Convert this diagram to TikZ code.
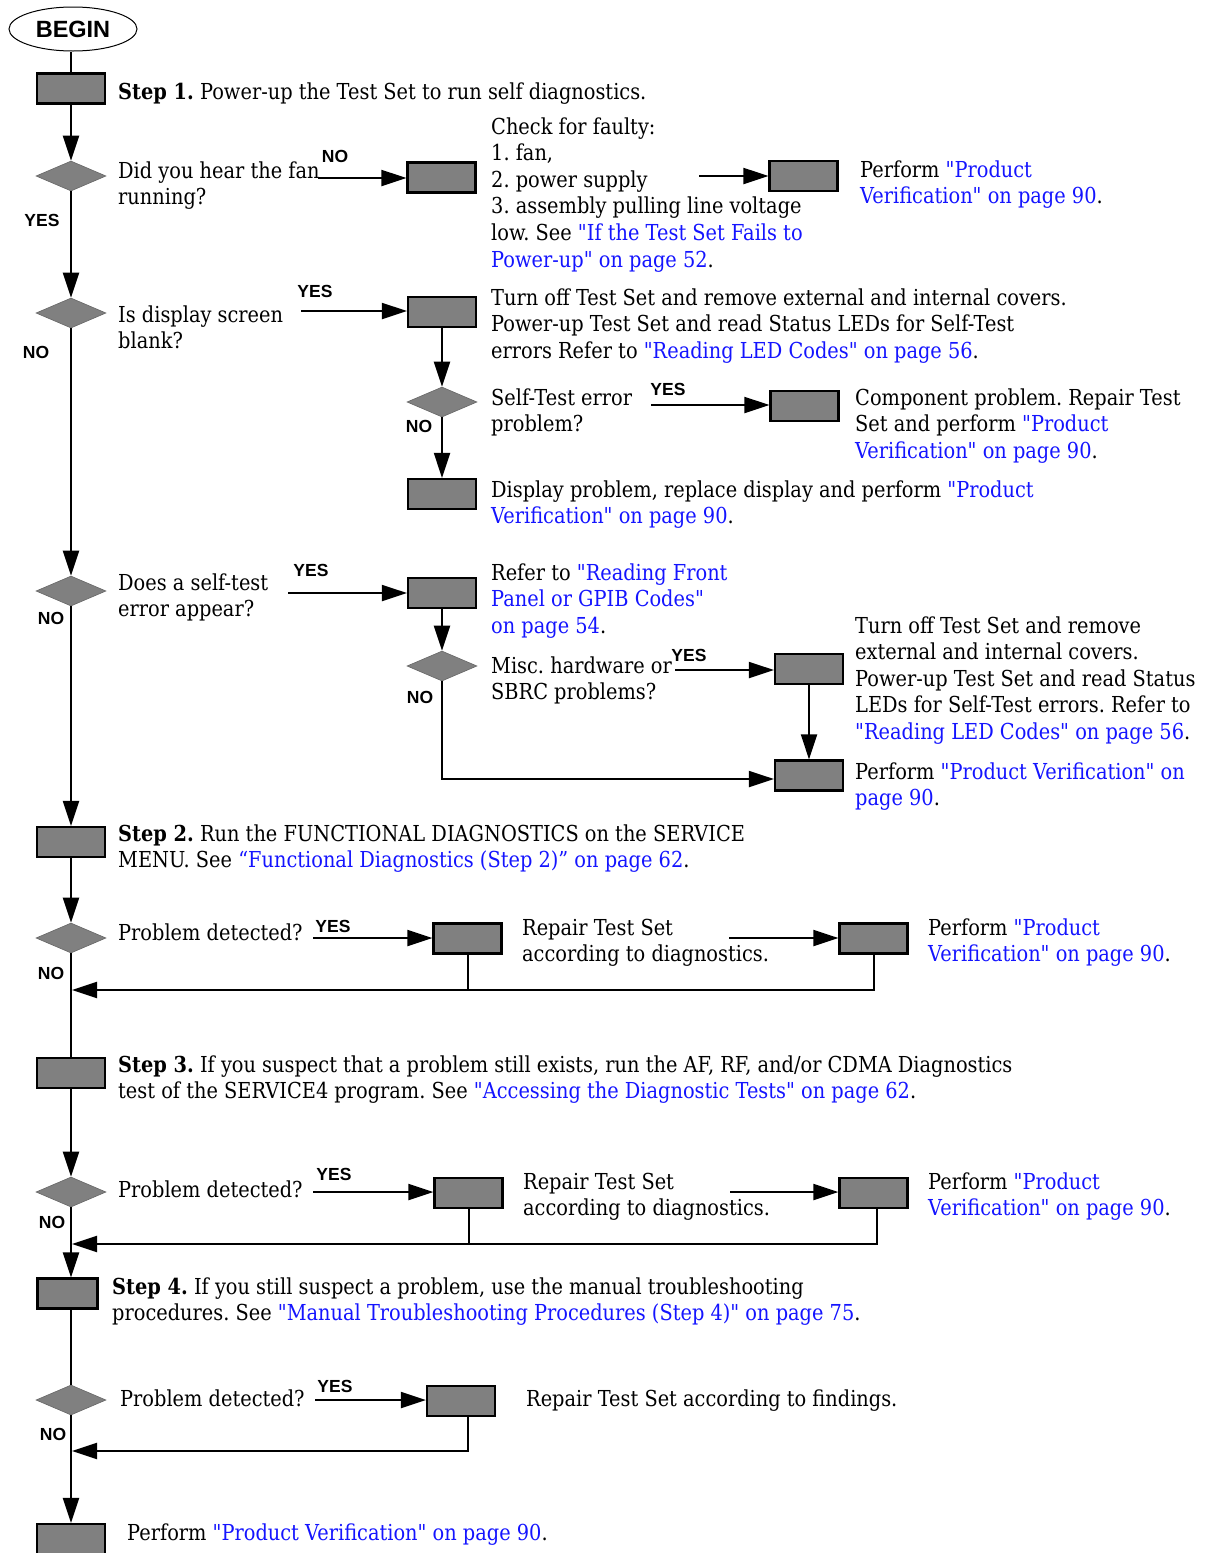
\documentclass[tikz,border=0pt]{standalone}
\usepackage{fontspec}
\setmainfont{DejaVu Serif}[FakeStretch=0.88, Ligatures=TeXOff]
\newfontfamily\labfont{Liberation Sans}
\usetikzlibrary{arrows.meta,shapes.geometric}
\definecolor{boxgray}{RGB}{128,128,128}
\definecolor{linkblue}{RGB}{20,20,255}
\newcommand\lk[1]{\textcolor{linkblue}{#1}}
\newcommand\ml[1]{\vtop{\baselineskip=26.6pt\lineskiplimit=-30pt\halign{##\hfil\cr#1\crcr}}}
\frenchspacing
\tikzset{
  box/.style={draw, line width=2.2pt, fill=boxgray, minimum width=68pt, minimum height=30pt, inner sep=0pt},
  dia/.style={diamond, fill=boxgray, draw=boxgray!80!black, line width=0.6pt, minimum width=70pt, minimum height=30pt, inner sep=0pt},
  txt/.style={anchor=base west, inner sep=0pt, font=\fontsize{22}{26.6}\selectfont},
  lab/.style={anchor=base, inner sep=0pt, font=\labfont\bfseries\fontsize{17.5}{20}\selectfont},
  arr/.style={-{Triangle[length=25pt,width=16pt]}, line width=2pt},
  ln/.style={line width=2pt},
}
\begin{document}
\begin{tikzpicture}[x=1pt,y=-1pt]
\useasboundingbox (0,0) rectangle (1207,1553);
% start
\node[ellipse, draw, line width=1pt, minimum width=128pt, minimum height=44pt, inner sep=0pt,
      font=\labfont\bfseries\fontsize{23.5}{26}\selectfont] (begin) at (73,29) {BEGIN};
% boxes
\node[box] (b1) at (71,88.5) {};
\node[box] (fb1) at (441.5,177.5) {};
\node[box] (pv1) at (803.5,176) {};
\node[box] (bd) at (442,312) {};
\node[box] (cp) at (804.5,406) {};
\node[box] (dp) at (442,494) {};
\node[box] (rf) at (442,593) {};
\node[box] (tc) at (809,669) {};
\node[box] (pv2) at (809,775.5) {};
\node[box] (b2) at (71,842) {};
\node[box] (r6) at (467.5,938.5) {};
\node[box] (p6) at (873.5,938.5) {};
\node[box] (b3) at (71,1073) {};
\node[box] (r7) at (468.5,1193) {};
\node[box] (p7) at (873.5,1193) {};
\node[box, minimum width=60pt] (b4) at (67.5,1293.5) {};
\node[box] (r8) at (461,1401) {};
\node[box] (b5) at (71,1539) {};
% diamonds
\node[dia] (d1) at (71,176) {};
\node[dia] (d2) at (71,313) {};
\node[dia] (d3) at (442,402) {};
\node[dia] (d4) at (71,591) {};
\node[dia] (d5) at (442,666) {};
\node[dia] (d6) at (71,938) {};
\node[dia] (d7) at (71,1192) {};
\node[dia] (d8) at (71,1400) {};
% free starts of horizontal arrows
\coordinate (s1) at (318,178);
\coordinate (s2) at (699,176);
\coordinate (s3) at (301,311);
\coordinate (s4) at (651,405);
\coordinate (s5) at (288,593);
\coordinate (s6) at (675,670);
\coordinate (s7) at (313,938);
\coordinate (s8) at (729,938);
\coordinate (s9) at (313,1192);
\coordinate (s10) at (730,1192);
\coordinate (s11) at (315,1400);
\coordinate (f6) at (72,990);
\coordinate (f7) at (72,1244);
\coordinate (f8) at (72,1451);
% connectors
\draw[ln] (begin.south -| b1.north) -- (b1);
\draw[arr] (b1) -- (d1);
\draw[arr] (s1) -- (s1 -| fb1.west);
\draw[arr] (s2) -- (s2 -| pv1.west);
\draw[arr] (d1) -- (d2);
\draw[arr] (s3) -- (s3 -| bd.west);
\draw[arr] (bd) -- (d3);
\draw[arr] (s4) -- (s4 -| cp.west);
\draw[arr] (d3) -- (dp);
\draw[arr] (d2) -- (d4);
\draw[arr] (s5) -- (s5 -| rf.west);
\draw[arr] (rf) -- (d5);
\draw[arr] (s6) -- (s6 -| tc.west);
\draw[arr] (tc) -- (pv2);
\draw[arr] (d5.south) |- ([yshift=-3.5pt]pv2.west);
\draw[arr] (d4) -- (b2);
\draw[arr] (b2) -- (d6);
\draw[arr] (s7) -- (s7 -| r6.west);
\draw[arr] (s8) -- (s8 -| p6.west);
\draw[ln] (r6.south) -- (r6.south |- f6);
\draw[arr] (p6.south) |- (f6);
\draw[ln] (d6) -- (b3);
\draw[arr] (b3) -- (d7);
\draw[arr] (s9) -- (s9 -| r7.west);
\draw[arr] (s10) -- (s10 -| p7.west);
\draw[ln] (r7.south) -- (r7.south |- f7);
\draw[arr] ([xshift=3pt]p7.south) |- (f7);
\draw[arr] (d7.south) -- (d7.south |- b4.north);
\draw[ln] (d8.north |- b4.south) -- (d8.north);
\draw[arr] (s11) -- (s11 -| r8.west);
\draw[arr] ([xshift=7pt]r8.south) |- (f8);
\draw[arr] (d8) -- (b5);
% yes/no labels
\node[lab] (l1) at (335,162) {NO};
\node[lab] (l2) at (42,226.5) {YES};
\node[lab] (l3) at (315,297.5) {YES};
\node[lab] (l4) at (668,395.5) {YES};
\node[lab] (l5) at (419,432.5) {NO};
\node[lab] (l6) at (36,358.5) {NO};
\node[lab] (l7) at (311,576.5) {YES};
\node[lab] (l8) at (51,624.5) {NO};
\node[lab] (l9) at (689,661.5) {YES};
\node[lab] (l10) at (420,703.5) {NO};
\node[lab] (l11) at (333,932.5) {YES};
\node[lab] (l12) at (51,979.5) {NO};
\node[lab] (l13) at (334,1180.5) {YES};
\node[lab] (l14) at (52,1228.5) {NO};
\node[lab] (l15) at (335,1392.5) {YES};
\node[lab] (l16) at (53,1440.5) {NO};
% texts
\node[txt] (t1) at (118,99) {\textbf{Step 1.} Power-up the Test Set to run self diagnostics.};
\node[txt] (t2) at (118,178) {\ml{Did you hear the fan\cr running?}};
\node[txt] (t3) at (491,134) {\ml{Check for faulty:\cr 1. fan,\cr 2. power supply\cr 3. assembly pulling line voltage\cr low. See \lk{"If the Test Set Fails to}\cr \lk{Power-up" on page 52}.}};
\node[txt] (t4) at (860,177) {\ml{Perform \lk{"Product}\cr \lk{Verification" on page 90}.}};
\node[txt] (t5) at (118,322) {\ml{Is display screen\cr blank?}};
\node[txt] (t6) at (491,305) {\ml{Turn off Test Set and remove external and internal covers.\cr Power-up Test Set and read Status LEDs for Self-Test\cr errors Refer to \lk{"Reading LED Codes" on page 56}.}};
\node[txt] (t7) at (491,405) {\ml{Self-Test error\cr problem?}};
\node[txt] (t8) at (855,405) {\ml{Component problem. Repair Test\cr Set and perform \lk{"Product}\cr \lk{Verification" on page 90}.}};
\node[txt] (t9) at (491,497) {\ml{Display problem, replace display and perform \lk{"Product}\cr \lk{Verification" on page 90}.}};
\node[txt] (t10) at (118,590) {\ml{Does a self-test\cr error appear?}};
\node[txt] (t11) at (491,580) {\ml{Refer to \lk{"Reading Front}\cr \lk{Panel or GPIB Codes"}\cr \lk{on page 54}.}};
\node[txt] (t12) at (491,673) {\ml{Misc. hardware or\cr SBRC problems?}};
\node[txt] (t13) at (855,633) {\ml{Turn off Test Set and remove\cr external and internal covers.\cr Power-up Test Set and read Status\cr LEDs for Self-Test errors. Refer to\cr \lk{"Reading LED Codes" on page 56}.}};
\node[txt] (t14) at (855,779) {\ml{Perform \lk{"Product Verification" on}\cr \lk{page 90}.}};
\node[txt] (t15) at (118,841) {\ml{\textbf{Step 2.} Run the FUNCTIONAL DIAGNOSTICS on the SERVICE\cr MENU. See \lk{“Functional Diagnostics (Step 2)” on page 62}.}};
\node[txt] (t16) at (118,940) {Problem detected?};
\node[txt] (t17) at (522,935) {\ml{Repair Test Set\cr according to diagnostics.}};
\node[txt] (t18) at (928,935) {\ml{Perform \lk{"Product}\cr \lk{Verification" on page 90}.}};
\node[txt] (t19) at (118,1072) {\ml{\textbf{Step 3.} If you suspect that a problem still exists, run the AF, RF, and/or CDMA Diagnostics\cr test of the SERVICE4 program. See \lk{"Accessing the Diagnostic Tests" on page 62}.}};
\node[txt] (t20) at (118,1197) {Problem detected?};
\node[txt] (t21) at (523,1189) {\ml{Repair Test Set\cr according to diagnostics.}};
\node[txt] (t22) at (928,1189) {\ml{Perform \lk{"Product}\cr \lk{Verification" on page 90}.}};
\node[txt] (t23) at (112,1294) {\ml{\textbf{Step 4.} If you still suspect a problem, use the manual troubleshooting\cr procedures. See \lk{"Manual Troubleshooting Procedures (Step 4)" on page 75}.}};
\node[txt] (t24) at (120,1406) {Problem detected?};
\node[txt] (t25) at (526,1406) {Repair Test Set according to findings.};
\node[txt] (t26) at (127,1540) {Perform \lk{"Product Verification" on page 90}.};
\end{tikzpicture}
\end{document}
